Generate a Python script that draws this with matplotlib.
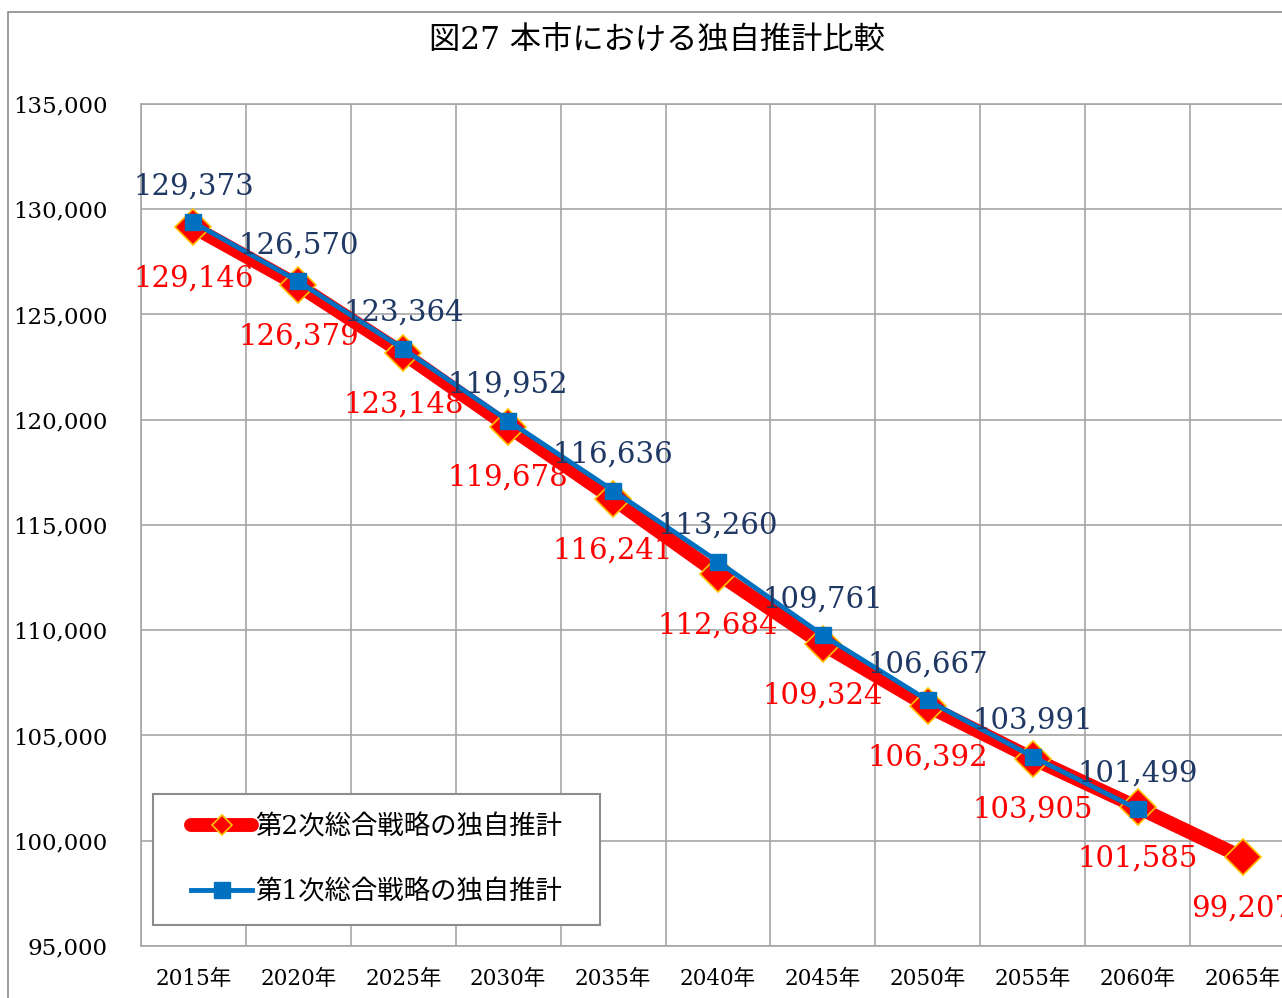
import matplotlib
matplotlib.use("Agg")
import matplotlib.pyplot as plt
from matplotlib.lines import Line2D
from matplotlib.patches import Rectangle
import numpy as np

plt.rcParams['font.family'] = ['DejaVu Serif', 'Noto Sans CJK JP']

# --- data ---
years = ["2015年", "2020年", "2025年", "2030年", "2035年", "2040年",
         "2045年", "2050年", "2055年", "2060年", "2065年"]
second_plan = [129146, 126379, 123148, 119678, 116241, 112684,
               109324, 106392, 103905, 101585, 99207]
first_plan = [129373, 126570, 123364, 119952, 116636, 113260,
              109761, 106667, 103991, 101499]

title = "図27 本市における独自推計比較"
label_second = "第2次総合戦略の独自推計"
label_first = "第1次総合戦略の独自推計"

RED = "#FF0000"
EDGE = "#FFC000"
BLUE = "#0070C0"
NAVY = "#1F3864"
GRID = "#A6A6A6"
FRAME = "#8C8C8C"

W, H = 1282, 998
fig = plt.figure(figsize=(W / 100, H / 100), dpi=100)
# chart area border (open at the bottom and right)
fig.patches.append(Rectangle((8 / W, -0.01), 1.1, 1 - 12 / H + 0.01,
                             transform=fig.transFigure, fill=False,
                             edgecolor=FRAME, linewidth=1.2))

ax_l, ax_b, ax_w, ax_h = 141, 946, 1154, 842
ax = fig.add_axes([ax_l / W, 1 - ax_b / H, ax_w / W, ax_h / H])

x1 = np.arange(len(second_plan))
x2 = np.arange(len(first_plan))

ax.plot(x1, second_plan, color=RED, linewidth=10, marker="D", markersize=18,
        markerfacecolor=RED, markeredgecolor=EDGE, markeredgewidth=1.2,
        solid_capstyle="round", zorder=3)
ax.plot(x2, first_plan, color=BLUE, linewidth=3.5, marker="s", markersize=11.5,
        markerfacecolor=BLUE, markeredgecolor=BLUE, zorder=4)

for x, v in zip(x1, second_plan):
    ax.annotate(f"{v:,}", (x, v), xytext=(0, -37), textcoords="offset points",
                ha="center", va="center", color=RED, fontsize=21, zorder=5)
for x, v in zip(x2, first_plan):
    ax.annotate(f"{v:,}", (x, v), xytext=(0, 26), textcoords="offset points",
                ha="center", va="center", color=NAVY, fontsize=21, zorder=5)

ax.set_xlim(-0.5, len(years) - 0.5)
ax.set_ylim(95000, 135000)
ax.set_yticks(np.arange(95000, 135001, 5000))
ax.yaxis.set_major_formatter(matplotlib.ticker.StrMethodFormatter("{x:,.0f}"))
ax.set_xticks(x1)
ax.set_xticklabels(years)
ax.set_xticks(np.arange(-0.5, len(years), 1), minor=True)

ax.grid(True, axis="y", which="major", color=GRID, linewidth=1.2)
ax.grid(True, axis="x", which="minor", color=GRID, linewidth=1.2)
ax.tick_params(axis="both", which="both", length=0)
ax.tick_params(axis="y", labelsize=16.5, pad=24)
ax.tick_params(axis="x", labelsize=15.5, pad=16)
for s in ax.spines.values():
    s.set_color(GRID)
    s.set_linewidth(1.2)

fig.text(657 / W, 1 - 40 / H, title, ha="center", va="center", fontsize=22.5)

# legend box drawn separately so the inner padding can differ per side
box = (153, 794, 600, 925)
to_ax = lambda px, py: ((px - ax_l) / ax_w, (ax_b - py) / ax_h)
bx0, by0 = to_ax(box[0], box[3])
bx1, by1 = to_ax(box[2], box[1])
ax.add_patch(Rectangle((bx0, by0), bx1 - bx0, by1 - by0, transform=ax.transAxes,
                       facecolor="white", edgecolor=FRAME, linewidth=1.5,
                       zorder=6))

handles = [
    Line2D([], [], color=RED, linewidth=10, marker="D", markersize=10,
           markerfacecolor=RED, markeredgecolor=EDGE, markeredgewidth=1.2,
           solid_capstyle="round"),
    Line2D([], [], color=BLUE, linewidth=3.5, marker="s", markersize=11,
           markerfacecolor=BLUE, markeredgecolor=BLUE),
]
leg = ax.legend(handles, [label_second, label_first], loc="center",
                bbox_to_anchor=((bx0 + bx1) / 2, (by0 + by1) / 2),
                fontsize=19, handlelength=2.3, handletextpad=0.1,
                labelspacing=1.5, borderpad=0, frameon=False)
leg.set_zorder(7)

fig.savefig("out.png", dpi=100)
